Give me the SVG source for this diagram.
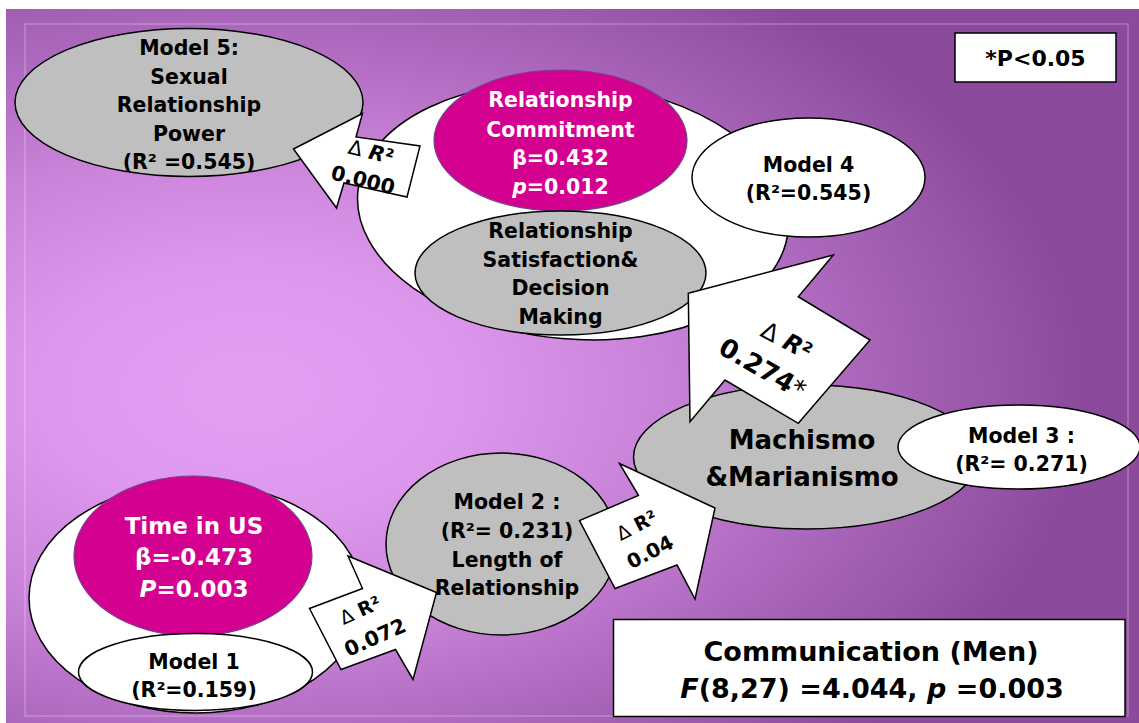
<svg xmlns="http://www.w3.org/2000/svg" width="1139" height="723" viewBox="0 0 1139 723">
<defs>
<radialGradient id="bg" gradientUnits="userSpaceOnUse" cx="250" cy="390" r="830" gradientTransform="translate(250 390) scale(1 0.6) translate(-250 -390)">
<stop offset="0" stop-color="#E3A0F3"/>
<stop offset="0.25" stop-color="#DD98ED"/>
<stop offset="0.5" stop-color="#C882D8"/>
<stop offset="0.72" stop-color="#AC68BC"/>
<stop offset="0.9" stop-color="#9756A8"/>
<stop offset="1" stop-color="#8C4A9C"/>
</radialGradient>
<style>
.gray{fill:#BFBFBF;stroke:#000;stroke-width:1.5}
.white{fill:#FFFFFF;stroke:#000;stroke-width:1.5}
.mag{fill:#D4008F;stroke:#7A3F8E;stroke-width:1.2}
.arrow{fill:#FFFFFF;stroke:#000;stroke-width:1.5;stroke-linejoin:miter}
.box{fill:#FFFFFF;stroke:#000;stroke-width:1.5}
.t{font-family:"DejaVu Sans","Liberation Sans",sans-serif;font-weight:bold;text-anchor:middle;fill:#000;font-size:20.5px}
.w{fill:#FFFFFF}
.big{font-size:26px}
.tus{font-size:23px}
.d{font-weight:normal}
.i{font-style:italic}
</style>
</defs>

<rect x="0" y="0" width="1139" height="723" fill="#FFFFFF"/>
<rect x="6" y="9" width="1133" height="714" fill="url(#bg)"/>
<rect x="25" y="24" width="1103" height="692" fill="none" stroke="#FFFFFF" stroke-opacity="0.25" stroke-width="1.5"/>

<g id="model5">
<ellipse class="gray" cx="189" cy="102.5" rx="174" ry="74"/>
<text class="t" x="189" y="55">Model 5:</text>
<text class="t" x="189" y="83.5">Sexual</text>
<text class="t" x="189" y="112">Relationship</text>
<text class="t" x="189" y="140.5">Power</text>
<text class="t" x="189" y="169">(R² =0.545)</text>
</g>

<g id="model4">
<ellipse class="white" cx="573" cy="211" rx="216" ry="128" transform="rotate(5 573 211)"/>
<ellipse class="mag" cx="560.5" cy="140.5" rx="126.5" ry="70.5"/>
<text class="t w" x="560.5" y="107">Relationship</text>
<text class="t w" x="560.5" y="136.5">Commitment</text>
<text class="t w" x="560.5" y="165">β=0.432</text>
<text class="t w" x="560.5" y="193.5"><tspan class="i">p</tspan>=0.012</text>
<ellipse class="gray" cx="560.5" cy="273" rx="145.5" ry="62"/>
<text class="t" x="560.5" y="238">Relationship</text>
<text class="t" x="560.5" y="266.5">Satisfaction&amp;</text>
<text class="t" x="560.5" y="295">Decision</text>
<text class="t" x="560.5" y="323.5">Making</text>
<ellipse class="white" cx="808.5" cy="177.5" rx="116.5" ry="59.5"/>
<text class="t" x="808.5" y="171.5">Model 4</text>
<text class="t" x="808.5" y="200">(R²=0.545)</text>
</g>

<g id="model3">
<ellipse class="gray" cx="806.5" cy="457" rx="173" ry="72"/>
<text class="t big" x="802" y="449">Machismo</text>
<text class="t big" x="802" y="486">&amp;Marianismo</text>
<ellipse class="white" cx="1019" cy="447" rx="121" ry="42"/>
<text class="t" x="1021.5" y="442.5">Model 3 :</text>
<text class="t" x="1021.5" y="471">(R²= 0.271)</text>
</g>

<g id="model2">
<ellipse class="gray" cx="501.5" cy="544" rx="115.5" ry="91"/>
</g>

<g id="model1">
<ellipse class="white" cx="196" cy="598" rx="167" ry="115"/>
<ellipse class="mag" cx="193" cy="556" rx="119" ry="80"/>
<text class="t w tus" x="194" y="533.5">Time in US</text>
<text class="t w tus" x="194" y="565">β=-0.473</text>
<text class="t w tus" x="194" y="596.5"><tspan class="i">P</tspan>=0.003</text>
<ellipse class="white" cx="195.5" cy="672" rx="117" ry="38.5"/>
<text class="t" x="194" y="668.5">Model 1</text>
<text class="t" x="194" y="696.5">(R²=0.159)</text>
</g>

<g id="connectors">
<g id="arrow-m4-m5">
<polygon class="arrow" points="293.5,149 362.5,113.5 356,137 420,146 407,197 344,183 336.5,208"/>
<g transform="translate(371 152) rotate(14)"><text class="t" x="0" y="7"><tspan class="d">Δ</tspan> <tspan class="i">R</tspan>²</text></g>
<g transform="translate(363 180) rotate(14)"><text class="t" x="0" y="7">0.000</text></g>
</g>
<g id="arrow-m3-m4">
<polygon class="arrow" points="688.3,293.3 833.3,255 798.3,296.7 870,340 798.3,423.3 725,380 690,421.7"/>
<g transform="translate(786.5 341) rotate(28)"><text class="t" style="font-size:24px" x="0" y="8"><tspan class="d">Δ</tspan> <tspan class="i">R</tspan>²</text></g>
<g transform="translate(762.5 368.5) rotate(30)"><text class="t" style="font-size:26px" x="0" y="9">0.274<tspan class="d">*</tspan></text></g>
</g>
<g id="arrow-m2-m3">
<polygon class="arrow" points="715,508 695,599 677,565 615,588.5 579.5,520.5 638.5,495.5 619.5,463.5"/>
<g transform="translate(636.5 525) rotate(-27)"><text class="t" style="font-size:19px" x="0" y="7"><tspan class="d">Δ</tspan> R²</text></g>
<g transform="translate(650 552) rotate(-27)"><text class="t" style="font-size:20px" x="0" y="7">0.04</text></g>
</g>
<g id="arrow-m1-m2">
<polygon class="arrow" points="436.5,592.5 413,679.5 395.5,649.5 341,669.5 309.5,608.5 362.5,588.5 348,556"/>
<g transform="translate(360 610) rotate(-24)"><text class="t" style="font-size:19px" x="0" y="7"><tspan class="d">Δ</tspan> R²</text></g>
<g transform="translate(375 637.5) rotate(-24)"><text class="t" style="font-size:20.5px" x="0" y="7">0.072</text></g>
</g>
</g>

<g id="model2-label">
<text class="t" x="507" y="508.5">Model 2 :</text>
<text class="t" x="507" y="537.5">(R²= 0.231)</text>
<text class="t" x="507" y="566.5">Length of</text>
<text class="t" x="507" y="594.5">Relationship</text>
</g>

<g id="legend">
<rect class="box" x="955" y="33" width="161" height="49"/>
<text class="t" style="font-size:22px" x="1035.5" y="66">*P&lt;0.05</text>
</g>

<g id="title">
<rect class="box" x="613.5" y="619.5" width="511.5" height="97"/>
<text class="t" style="font-size:27px" x="871" y="660.5">Communication (Men)</text>
<text class="t" style="font-size:27px" x="872" y="697.5"><tspan class="i">F</tspan>(8,27) =4.044, <tspan class="i">p</tspan> =0.003</text>
</g>
</svg>
